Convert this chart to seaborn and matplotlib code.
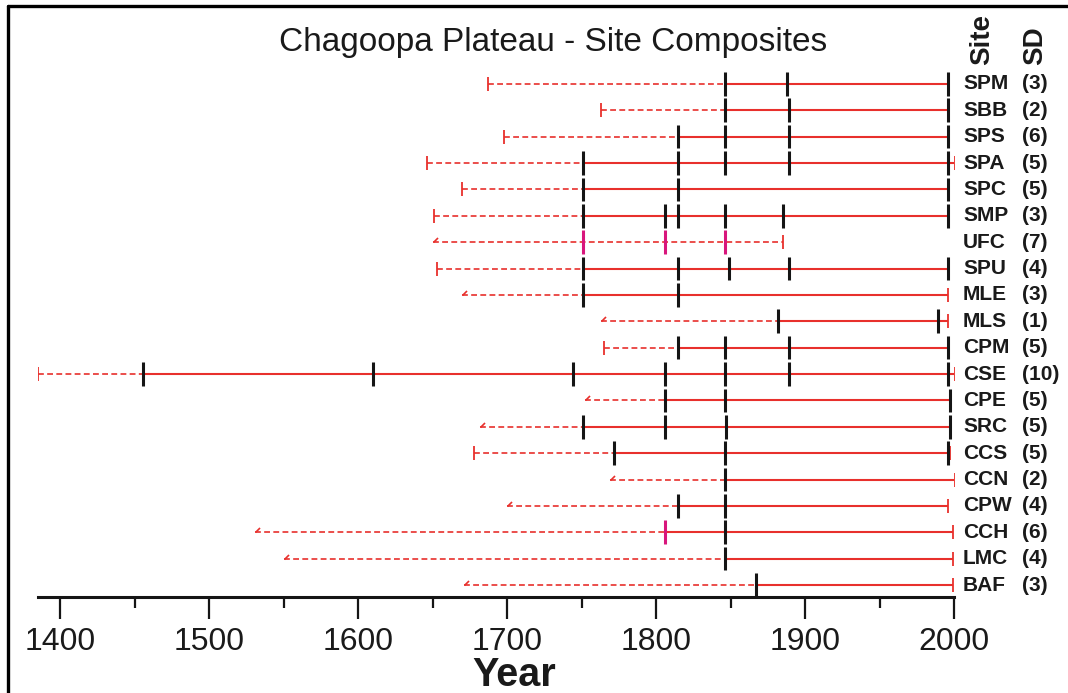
import seaborn as sns
import matplotlib.pyplot as plt
import numpy as np
import pandas as pd
from matplotlib.path import Path
from matplotlib.lines import Line2D

# site composites, top to bottom
sites = ['SPM', 'SBB', 'SPS', 'SPA', 'SPC', 'SMP', 'UFC', 'SPU', 'MLE', 'MLS',
         'CPM', 'CSE', 'CPE', 'SRC', 'CCS', 'CCN', 'CPW', 'CCH', 'LMC', 'BAF']
sd = [3, 2, 6, 5, 5, 3, 7, 4, 3, 1, 5, 10, 5, 5, 5, 2, 4, 6, 4, 3]

# first year of the dashed (inner) part and how it is marked
first_year = [1687, 1763, 1698, 1646, 1670, 1651, 1650, 1653, 1670, 1763,
              1765, 1385, 1752, 1682, 1678, 1769, 1700, 1531, 1550, 1671]
first_kind = ['bar', 'bar', 'bar', 'bar', 'bar', 'bar', 'arrow', 'bar', 'arrow', 'arrow',
              'bar', 'bar', 'arrow', 'arrow', 'bar', 'arrow', 'arrow', 'arrow', 'arrow', 'arrow']

# black tick years (events / sample years)
black_ticks = [
    [1846, 1888, 1996],
    [1846, 1889, 1996],
    [1815, 1846, 1889, 1996],
    [1751, 1815, 1846, 1889, 1996],
    [1751, 1815, 1996],
    [1751, 1806, 1815, 1846, 1885, 1996],
    [],
    [1751, 1815, 1849, 1889, 1996],
    [1751, 1815],
    [1882, 1989],
    [1815, 1846, 1889, 1996],
    [1456, 1610, 1744, 1806, 1846, 1889, 1996],
    [1806, 1846, 1997],
    [1751, 1806, 1847, 1997],
    [1772, 1846, 1996],
    [1846],
    [1815, 1846],
    [1846],
    [1846],
    [1867],
]
# magenta ticks
pink_ticks = [[], [], [], [], [], [], [1751, 1806, 1846], [], [], [],
              [], [], [], [], [], [], [], [1806], [], []]

# end of the line and whether it has a red end cap
last_year = [1996, 1996, 1996, 2001, 1996, 1996, 1885, 1996, 1996, 1996,
             1996, 2001, 1997, 1997, 1997, 2001, 1996, 1999, 1999, 1999]
red_cap = [False, False, False, True, False, False, True, False, True, True,
           False, True, True, True, True, True, True, True, True, True]
# UFC has no solid part
has_solid = [s != 'UFC' for s in sites]

red = '#e8302c'
pink = '#d8167c'

sns.set_theme(style='white')
plt.rcParams['font.family'] = ['Liberation Sans', 'DejaVu Sans']

W, H = 1068, 693
fig = plt.figure(figsize=(W / 100, H / 100), dpi=100)
ax = fig.add_axes([38 / W, 1 - 597 / H, (954 - 38) / W, (597 - 18) / H])

rows = np.arange(len(sites))
arrow = Path([(0, 0), (1, 1)], [Path.MOVETO, Path.LINETO])
for i in rows:
    tks = sorted(black_ticks[i] + pink_ticks[i])
    if has_solid[i] and tks:
        solid_from = tks[0]
        ax.hlines(i, first_year[i], solid_from, colors=red, lw=1.2,
                  linestyles=(0, (3.5, 2)), zorder=2)
        ax.hlines(i, solid_from, last_year[i], colors=red, lw=1.5, zorder=2)
    else:
        ax.hlines(i, first_year[i], last_year[i], colors=red, lw=1.2,
                  linestyles=(0, (3.5, 2)), zorder=2)
    if first_kind[i] == 'bar':
        ax.plot(first_year[i], i, marker='|', ms=9.5, mew=1.3, color=red, zorder=3)
    else:
        ax.plot(first_year[i], i, marker=arrow, ms=6.5, mew=1.2, color=red, zorder=3)
    if red_cap[i]:
        ax.plot(last_year[i], i, marker='|', ms=9.5, mew=1.3, color=red, zorder=3)

tick_df = pd.DataFrame(
    [(y, i, 'black') for i in rows for y in black_ticks[i]] +
    [(y, i, 'pink') for i in rows for y in pink_ticks[i]],
    columns=['year', 'row', 'kind'])
sns.scatterplot(data=tick_df, x='year', y='row', hue='kind',
                palette={'black': '#151515', 'pink': pink}, marker='|',
                s=17 ** 2, linewidth=2.2, legend=False, ax=ax, zorder=4)

# site names and sample depth
for i in rows:
    ax.text(2006, i, sites[i], ha='left', va='center', fontsize=15,
            fontweight='bold', color='#1a1a1a', clip_on=False)
    ax.text(2045.5, i, f'({sd[i]})', ha='left', va='center', fontsize=15,
            fontweight='bold', color='#1a1a1a', clip_on=False)

ax.set_xlim(1385.2, 2000)
ax.set_ylim(19.455, -2.5)
ax.set_xticks(np.arange(1400, 2001, 100))
ax.set_xticks(np.arange(1450, 2000, 100), minor=True)
ax.tick_params(axis='x', which='major', direction='out', length=15.8, width=1.6,
               color='#151515', labelsize=23, pad=6, labelcolor='#1a1a1a', bottom=True)
ax.tick_params(axis='x', which='minor', direction='out', length=8, width=1.6,
               color='#151515', bottom=True)
ax.set_yticks([])
ax.set_xlabel('')
ax.set_ylabel('')
for side in ['left', 'top', 'right']:
    ax.spines[side].set_visible(False)
ax.spines['bottom'].set_linewidth(2.2)
ax.spines['bottom'].set_color('#151515')

fig.text(553 / W, 1 - 43 / H, 'Chagoopa Plateau - Site Composites', ha='center',
         va='center', fontsize=24, color='#1a1a1a')
fig.text(514 / W, 1 - 686 / H, 'Year', ha='center', va='baseline', fontsize=28.5,
         fontweight='bold', color='#1a1a1a')
fig.text(982 / W, 1 - 65 / H, 'Site', ha='center', va='bottom', rotation=90,
         fontsize=20, fontweight='bold', color='#1a1a1a')
fig.text(1035 / W, 1 - 65 / H, 'SD', ha='center', va='bottom', rotation=90,
         fontsize=20, fontweight='bold', color='#1a1a1a')

# frame on left and top
fig.add_artist(Line2D([8 / W, 8 / W], [0, 1 - 6 / H], color='black', lw=2.4))
fig.add_artist(Line2D([8 / W, 1], [1 - 6 / H, 1 - 6 / H], color='black', lw=2.4))

fig.savefig('out.png', dpi=100)
